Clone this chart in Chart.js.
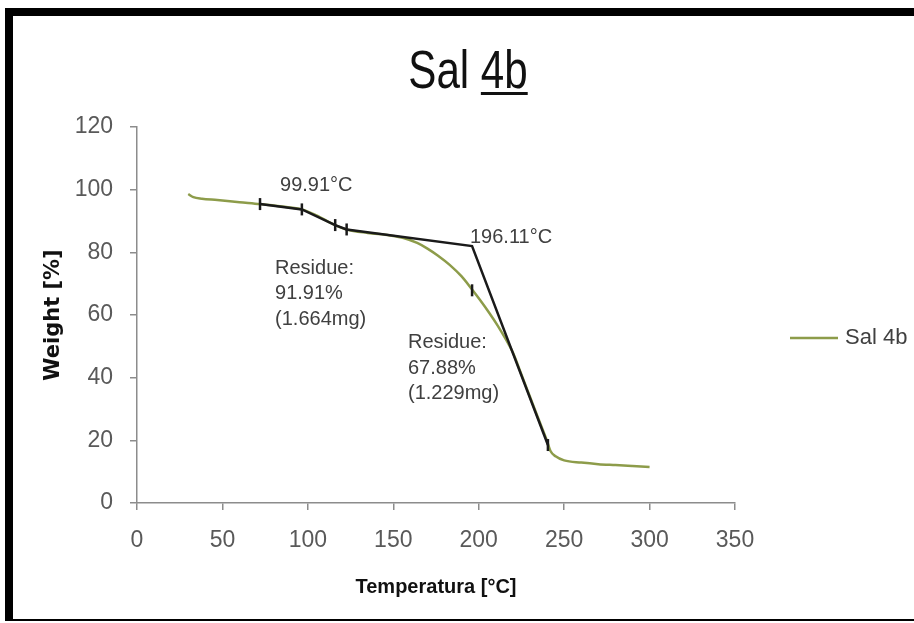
<!DOCTYPE html>
<html>
<head>
<meta charset="utf-8">
<title>Sal 4b</title>
<script src="https://cdn.jsdelivr.net/npm/chart.js@4.4.1/dist/chart.umd.min.js"></script>
<style>
    html, body { margin: 0; padding: 0; background: #fff; }
    #wrap { position: relative; width: 914px; height: 623px; }
    #frame {
        position: absolute; left: 5px; top: 8px; right: 0; bottom: 2px;
        border-top: 8px solid #000; border-left: 8px solid #000; border-bottom: 2px solid #000;
        pointer-events: none;
    }
</style>
</head>
<body>
<div id="wrap">
    <canvas id="tgaChart" width="914" height="623"></canvas>
    <div id="frame"></div>
</div>
<script>
// Thermogravimetric curve (temperature in °C, remaining mass in %)
const tempC = [30, 33, 38, 47, 60, 72, 85, 96.5, 105, 116, 122.7, 135, 148, 156, 164, 170, 176, 183, 190, 196,
    201, 206, 211, 216, 220, 225, 230, 235, 240, 242, 245, 250, 260, 270, 280, 290, 300];
const weightPct = [98.6, 97.6, 97.1, 96.7, 96.0, 95.4, 94.6, 93.7, 91.8, 88.7, 87.3, 86.2, 85.4, 84.6, 83.0, 81.2, 79.0, 76.0, 72.3, 68.2,
    64.6, 60.8, 56.7, 52.1, 48.0, 41.0, 33.9, 26.8, 19.8, 16.6, 14.9, 13.6, 12.9, 12.4, 12.1, 11.8, 11.5];

// Onset construction lines
const tangentT = [72, 96.5, 116, 122.7, 196.11, 240.5];
const tangentW = [95.4, 93.7, 88.7, 87.3, 82.0, 18.5];

// Small vertical analysis marks
const markT = [72, 96.5, 116, 122.7, 196.11, 240.5];
const markW = [95.4, 93.7, 88.7, 87.3, 67.88, 18.5];

// Text notes, anchored at (temperature, weight) of their first line
const noteLines = [['99.91°C'], ['196.11°C'], ['Residue:', '91.91%', '(1.664mg)'], ['Residue:', '67.88%', '(1.229mg)']];
const noteT = [83.7, 194.9, 80.8, 158.6];
const noteW = [101.2, 84.6, 75.0, 51.1];

const xTicks = [0, 50, 100, 150, 200, 250, 300, 350];
const yTicks = [0, 20, 40, 60, 80, 100, 120];

const titleMain = 'Sal';
const titleTag = '4b';
const seriesName = 'Sal 4b';

const sansFont = '"Liberation Sans", Arial, sans-serif';

function toPoints(xs, ys) {
    return xs.map((x, i) => ({ x: x, y: ys[i] }));
}

// Title with the compound number underlined, slightly condensed
const titlePlugin = {
    id: 'underlinedTitle',
    afterDraw(chart) {
        const ctx = chart.ctx;
        const squeeze = 0.78;
        ctx.save();
        ctx.font = '54px ' + sansFont;
        ctx.fillStyle = '#111';
        ctx.textBaseline = 'alphabetic';
        const head = titleMain + ' ';
        const wHead = ctx.measureText(head).width;
        const wTag = ctx.measureText(titleTag).width;
        const base = 88;
        ctx.translate(468 - (wHead + wTag) * squeeze / 2, 0);
        ctx.scale(squeeze, 1);
        ctx.fillText(head, 0, base);
        ctx.fillText(titleTag, wHead, base);
        ctx.fillRect(wHead, base + 4, wTag, 3);
        ctx.restore();
    }
};

// Analysis notes placed in data coordinates
const notesPlugin = {
    id: 'notes',
    afterDatasetsDraw(chart) {
        const ctx = chart.ctx;
        const xs = chart.scales.x, ys = chart.scales.y;
        ctx.save();
        ctx.font = '20px ' + sansFont;
        ctx.fillStyle = '#404040';
        ctx.textBaseline = 'middle';
        ctx.textAlign = 'left';
        noteLines.forEach((lines, i) => {
            const px = xs.getPixelForValue(noteT[i]);
            const py = ys.getPixelForValue(noteW[i]);
            lines.forEach((txt, j) => ctx.fillText(txt, px, py + j * 25.5));
        });
        ctx.restore();
    }
};

// Series key on the right side
const sideLegend = {
    id: 'sideLegend',
    afterDraw(chart) {
        const ds = chart.data.datasets[0];
        const ctx = chart.ctx;
        const y = 338;
        ctx.save();
        ctx.strokeStyle = ds.borderColor;
        ctx.lineWidth = ds.borderWidth;
        ctx.beginPath();
        ctx.moveTo(790, y);
        ctx.lineTo(838, y);
        ctx.stroke();
        ctx.font = '22px ' + sansFont;
        ctx.fillStyle = '#404040';
        ctx.textBaseline = 'middle';
        ctx.fillText(ds.label, 845, y);
        ctx.restore();
    }
};

const axisGray = '#8c8c8c';

new Chart(document.getElementById('tgaChart'), {
    type: 'line',
    data: {
        datasets: [{
            label: seriesName,
            data: toPoints(tempC, weightPct),
            borderColor: '#8d9c4a',
            borderWidth: 2.5,
            pointRadius: 0,
            cubicInterpolationMode: 'monotone',
            order: 3
        }, {
            label: 'tangent',
            data: toPoints(tangentT, tangentW),
            borderColor: '#1a1a1a',
            borderWidth: 2.5,
            pointRadius: 0,
            tension: 0,
            order: 2
        }, {
            label: 'marks',
            data: toPoints(markT, markW),
            showLine: false,
            pointStyle: 'line',
            rotation: 90,
            pointRadius: 6,
            pointBorderWidth: 2.5,
            pointBorderColor: '#1a1a1a',
            borderColor: '#1a1a1a',
            order: 1
        }]
    },
    options: {
        responsive: false,
        animation: false,
        layout: { padding: { top: 127, right: 179, bottom: 0, left: 0 } },
        plugins: {
            legend: { display: false },
            title: { display: false },
            tooltip: { enabled: false }
        },
        scales: {
            x: {
                type: 'linear',
                min: xTicks[0],
                max: xTicks[xTicks.length - 1],
                afterBuildTicks: scale => { scale.ticks = xTicks.map(v => ({ value: v })); },
                afterFit: scale => { scale.height = 120; },
                grid: { display: true, drawOnChartArea: false, drawTicks: true, tickLength: 7, color: axisGray, lineWidth: 1.5 },
                border: { display: true, color: axisGray, width: 1.5 },
                ticks: { color: '#595959', padding: 17, maxRotation: 0, font: { family: sansFont, size: 23 } },
                title: {
                    display: true,
                    text: 'Temperatura [°C]',
                    color: '#111',
                    font: { family: sansFont, size: 20, weight: 'bold' },
                    padding: { top: 0, bottom: 24 }
                }
            },
            y: {
                min: yTicks[0],
                max: yTicks[yTicks.length - 1],
                afterBuildTicks: scale => { scale.ticks = yTicks.map(v => ({ value: v })); },
                afterFit: scale => { scale.width = 137; },
                grid: { display: true, drawOnChartArea: false, drawTicks: true, tickLength: 7, color: axisGray, lineWidth: 1.5 },
                border: { display: true, color: axisGray, width: 1.5 },
                ticks: { color: '#595959', padding: 17, font: { family: sansFont, size: 23 } },
                title: {
                    display: true,
                    text: 'Weight [%]',
                    color: '#111',
                    font: { family: '"DejaVu Sans", sans-serif', size: 21, weight: 'bold' },
                    padding: { top: 41, bottom: 0 }
                }
            }
        }
    },
    plugins: [titlePlugin, notesPlugin, sideLegend]
});
</script>
</body>
</html>
